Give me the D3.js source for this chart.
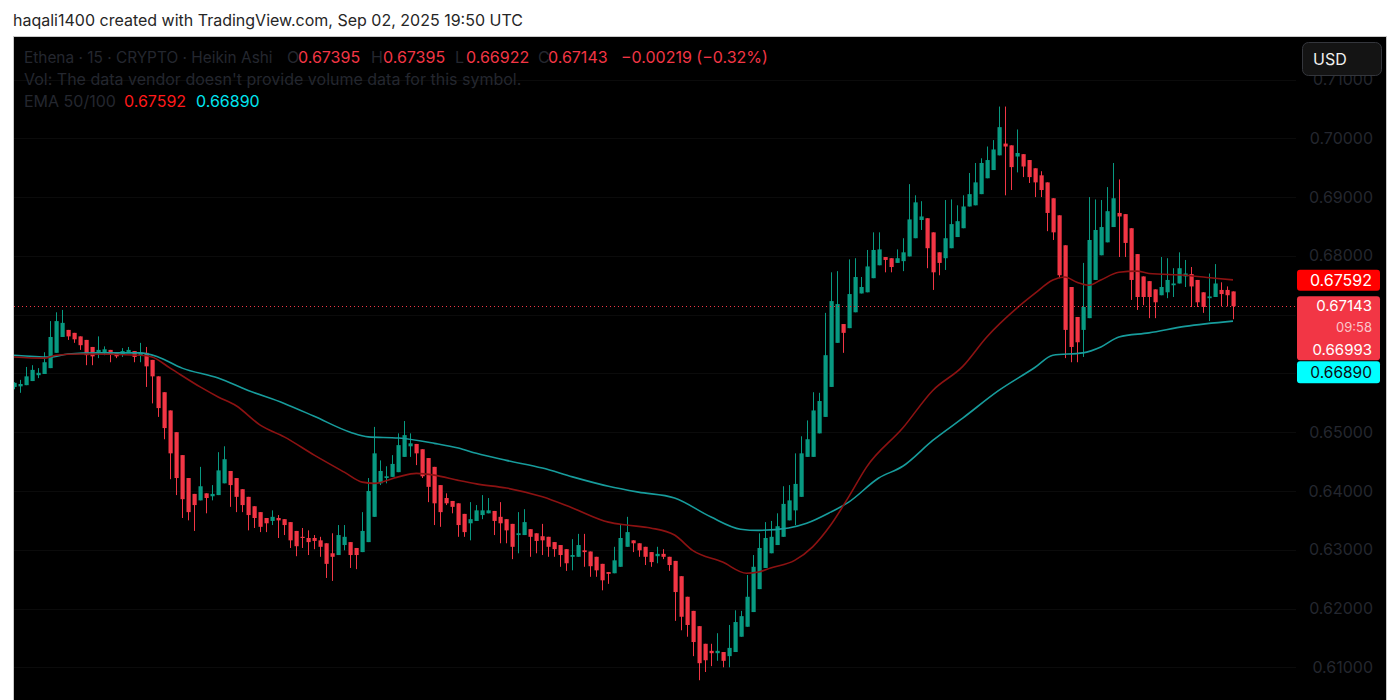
<!DOCTYPE html>
<html><head><meta charset="utf-8">
<script src="https://cdn.jsdelivr.net/npm/d3@7"></script>
<style>
html,body{margin:0;padding:0;background:#fff;}
svg{display:block;}
text{font-family:Inter,"Noto Sans",sans-serif;}
</style></head>
<body><svg id="c" width="1400" height="700"></svg>
<script>
// ---- Data (Heikin Ashi, 15m, Ethena) ----
const haOpen = [
0.6577,0.6578,0.6580,0.6587,0.6597,0.6599,0.6609,0.6635,0.6662,0.6674,
0.6669,0.6663,0.6657,0.6645,0.6635,0.6636,0.6640,0.6636,0.6633,0.6635,
0.6638,0.6631,0.6635,0.6623,0.6595,0.6568,0.6537,0.6500,0.6461,0.6422,
0.6395,0.6384,0.6396,0.6391,0.6393,0.6413,0.6434,0.6422,0.6403,0.6390,
0.6374,0.6364,0.6354,0.6349,0.6354,0.6352,0.6347,0.6332,0.6322,0.6320,
0.6320,0.6316,0.6311,0.6294,0.6291,0.6308,0.6313,0.6303,0.6296,0.6313,
0.6356,0.6413,0.6422,0.6424,0.6432,0.6458,0.6476,0.6480,0.6471,0.6456,
0.6441,0.6410,0.6388,0.6383,0.6379,0.6361,0.6345,0.6349,0.6359,0.6362,
0.6366,0.6356,0.6352,0.6344,0.6325,0.6325,0.6335,0.6328,0.6323,0.6322,
0.6313,0.6308,0.6301,0.6288,0.6288,0.6299,0.6297,0.6288,0.6276,0.6262,
0.6260,0.6271,0.6305,0.6316,0.6311,0.6305,0.6296,0.6289,0.6293,0.6288,
0.6281,0.6255,0.6220,0.6196,0.6170,0.6140,0.6128,0.6124,0.6126,0.6119,
0.6126,0.6152,0.6169,0.6194,0.6233,0.6269,0.6294,0.6308,0.6322,0.6350,
0.6367,0.6390,0.6458,0.6458,0.6498,0.6526,0.6577,0.6652,0.6684,0.6677,
0.6704,0.6736,0.6738,0.6762,0.6784,0.6798,0.6796,0.6788,0.6791,0.6799,
0.6830,0.6861,0.6864,0.6840,0.6806,0.6796,0.6813,0.6832,0.6847,0.6884,
0.6886,0.6905,0.6932,0.6946,0.6971,0.6991,0.6988,0.6969,0.6973,0.6963,
0.6949,0.6937,0.6925,0.6898,0.6869,0.6818,0.6747,0.6696,0.6674,0.6694,
0.6759,0.6801,0.6823,0.6849,0.6873,0.6871,0.6847,0.6803,0.6765,0.6757,
0.6743,0.6733,0.6738,0.6750,0.6753,0.6765,0.6769,0.6759,0.6738,0.6728,
0.6730,0.6742,0.6742,0.67395];
const haHigh = [
0.6585,0.6589,0.6611,0.6614,0.6609,0.6636,0.6689,0.6704,0.6708,0.6674,
0.6669,0.6663,0.6657,0.6645,0.6663,0.6646,0.6640,0.6636,0.6643,0.6645,
0.6638,0.6652,0.6645,0.6623,0.6595,0.6568,0.6537,0.6500,0.6461,0.6422,
0.6395,0.6441,0.6396,0.6410,0.6466,0.6476,0.6434,0.6422,0.6403,0.6390,
0.6374,0.6364,0.6354,0.6367,0.6359,0.6352,0.6347,0.6332,0.6337,0.6333,
0.6325,0.6322,0.6311,0.6328,0.6342,0.6342,0.6313,0.6303,0.6364,0.6422,
0.6509,0.6452,0.6442,0.6461,0.6498,0.6519,0.6498,0.6480,0.6471,0.6456,
0.6441,0.6410,0.6396,0.6383,0.6379,0.6361,0.6381,0.6376,0.6393,0.6388,
0.6366,0.6381,0.6352,0.6344,0.6364,0.6369,0.6335,0.6328,0.6344,0.6322,
0.6313,0.6308,0.6301,0.6318,0.6327,0.6327,0.6297,0.6288,0.6276,0.6262,
0.6305,0.6342,0.6356,0.6316,0.6311,0.6305,0.6296,0.6305,0.6301,0.6288,
0.6281,0.6255,0.6220,0.6196,0.6170,0.6140,0.6140,0.6158,0.6126,0.6172,
0.6197,0.6196,0.6257,0.6291,0.6328,0.6347,0.6349,0.6362,0.6408,0.6410,
0.6464,0.6493,0.6520,0.6568,0.6567,0.6703,0.6772,0.6774,0.6684,0.6794,
0.6796,0.6764,0.6810,0.6840,0.6840,0.6798,0.6796,0.6811,0.6830,0.6922,
0.6903,0.6893,0.6864,0.6840,0.6806,0.6895,0.6896,0.6886,0.6903,0.6941,
0.6958,0.6966,0.6986,0.6997,0.7054,0.7054,0.6988,0.7015,0.6973,0.6963,
0.6949,0.6944,0.6925,0.6898,0.6869,0.6818,0.6747,0.6696,0.6788,0.6900,
0.6896,0.6895,0.6917,0.6958,0.6930,0.6871,0.6847,0.6803,0.6765,0.6757,
0.6743,0.6798,0.6796,0.6779,0.6806,0.6793,0.6781,0.6759,0.6738,0.6770,
0.6786,0.6755,0.6748,0.67395];
const haLow = [
0.6573,0.6567,0.6580,0.6587,0.6592,0.6599,0.6609,0.6635,0.6662,0.6657,
0.6652,0.6640,0.6614,0.6614,0.6626,0.6631,0.6619,0.6626,0.6628,0.6635,
0.6619,0.6619,0.6577,0.6549,0.6526,0.6488,0.6420,0.6393,0.6354,0.6350,
0.6332,0.6384,0.6362,0.6384,0.6393,0.6413,0.6373,0.6364,0.6364,0.6333,
0.6337,0.6330,0.6330,0.6342,0.6320,0.6325,0.6303,0.6289,0.6303,0.6291,
0.6301,0.6288,0.6252,0.6247,0.6291,0.6299,0.6269,0.6267,0.6296,0.6313,
0.6356,0.6410,0.6413,0.6424,0.6432,0.6458,0.6458,0.6444,0.6422,0.6381,
0.6342,0.6339,0.6376,0.6362,0.6322,0.6322,0.6316,0.6349,0.6352,0.6362,
0.6325,0.6311,0.6311,0.6284,0.6294,0.6325,0.6288,0.6294,0.6291,0.6288,
0.6288,0.6271,0.6264,0.6265,0.6288,0.6271,0.6254,0.6254,0.6231,0.6242,
0.6260,0.6271,0.6305,0.6296,0.6288,0.6274,0.6271,0.6277,0.6284,0.6264,
0.6179,0.6163,0.6152,0.6119,0.6078,0.6092,0.6102,0.6111,0.6100,0.6100,
0.6126,0.6152,0.6169,0.6194,0.6233,0.6269,0.6294,0.6308,0.6322,0.6350,
0.6342,0.6390,0.6458,0.6458,0.6498,0.6526,0.6577,0.6652,0.6635,0.6677,
0.6704,0.6736,0.6738,0.6762,0.6784,0.6772,0.6772,0.6788,0.6774,0.6799,
0.6830,0.6844,0.6779,0.6742,0.6767,0.6776,0.6813,0.6832,0.6847,0.6884,
0.6886,0.6905,0.6932,0.6946,0.6971,0.6903,0.6912,0.6942,0.6934,0.6924,
0.6900,0.6900,0.6842,0.6827,0.6762,0.6626,0.6619,0.6619,0.6628,0.6694,
0.6759,0.6801,0.6823,0.6849,0.6798,0.6798,0.6725,0.6708,0.6716,0.6694,
0.6694,0.6733,0.6728,0.6730,0.6753,0.6747,0.6713,0.6713,0.6703,0.6689,
0.6730,0.6714,0.6714,0.66922];
const haClose = [
0.6584,0.6582,0.6595,0.6606,0.6601,0.6619,0.6662,0.6689,0.6686,0.6663,
0.6658,0.6648,0.6631,0.6629,0.6640,0.6641,0.6633,0.6629,0.6638,0.6640,
0.6628,0.6635,0.6612,0.6595,0.6541,0.6507,0.6464,0.6422,0.6386,0.6364,
0.6376,0.6408,0.6388,0.6395,0.6435,0.6454,0.6410,0.6390,0.6376,0.6359,
0.6354,0.6339,0.6345,0.6356,0.6350,0.6342,0.6316,0.6306,0.6320,0.6313,
0.6315,0.6305,0.6276,0.6288,0.6325,0.6322,0.6291,0.6291,0.6332,0.6400,
0.6464,0.6434,0.6425,0.6446,0.6478,0.6495,0.6481,0.6464,0.6425,0.6407,
0.6379,0.6364,0.6379,0.6373,0.6342,0.6330,0.6352,0.6367,0.6367,0.6367,
0.6349,0.6345,0.6333,0.6305,0.6328,0.6347,0.6322,0.6315,0.6316,0.6305,
0.6301,0.6291,0.6277,0.6291,0.6308,0.6296,0.6272,0.6265,0.6248,0.6259,
0.6282,0.6320,0.6330,0.6311,0.6299,0.6288,0.6279,0.6293,0.6288,0.6274,
0.6228,0.6186,0.6172,0.6143,0.6107,0.6112,0.6124,0.6128,0.6111,0.6133,
0.6177,0.6187,0.6220,0.6271,0.6303,0.6320,0.6322,0.6340,0.6378,0.6384,
0.6412,0.6464,0.6488,0.6537,0.6553,0.6631,0.6723,0.6718,0.6669,0.6735,
0.6764,0.6747,0.6782,0.6810,0.6811,0.6793,0.6781,0.6796,0.6806,0.6862,
0.6891,0.6867,0.6813,0.6772,0.6788,0.6830,0.6854,0.6859,0.6884,0.6905,
0.6925,0.6958,0.6963,0.6981,0.7019,0.6986,0.6951,0.6975,0.6952,0.6934,
0.6925,0.6912,0.6873,0.6840,0.6767,0.6674,0.6645,0.6653,0.6713,0.6827,
0.6844,0.6849,0.6876,0.6898,0.6867,0.6822,0.6759,0.6730,0.6730,0.6730,
0.6721,0.6747,0.6759,0.6753,0.6779,0.6770,0.6748,0.6721,0.6713,0.6731,
0.6753,0.6735,0.6733,0.67143];

// EMA readings (candle index, value)
const ema50Index = [0,5,7,11,21,23,26,31,34,37,41,45,50,55,58,60,64,67,70,74,77,82,88,93,99,102,106,110,113,118,122,124,126,130,133,136,139,142,148,153,158,162,167,170,173,175,177,179,181,184,187,189,195,200,203];
const ema50Value = [0.6628,0.6626,0.6631,0.6633,0.6631,0.6628,0.6609,0.6577,0.6560,0.6545,0.6512,0.6492,0.6461,0.6432,0.6415,0.6413,0.6424,0.6430,0.6427,0.6418,0.6412,0.6405,0.6390,0.6371,0.6347,0.6342,0.6337,0.6325,0.6299,0.6279,0.6260,0.6262,0.6269,0.6282,0.6305,0.6342,0.6390,0.6441,0.6507,0.6571,0.6612,0.6662,0.6711,0.6736,0.6759,0.6764,0.6755,0.6750,0.6759,0.6772,0.6774,0.6770,0.6767,0.6762,0.67592];
const ema100Index = [0,6,9,14,21,24,28,34,39,45,50,56,59,64,70,74,77,82,88,93,99,104,110,116,121,124,129,132,136,139,144,148,153,158,164,170,173,178,181,184,189,195,203];
const ema100Value = [0.6631,0.6628,0.6633,0.6635,0.6635,0.6628,0.6609,0.6592,0.6571,0.6549,0.6527,0.6500,0.6492,0.6490,0.6481,0.6473,0.6464,0.6452,0.6439,0.6424,0.6408,0.6398,0.6388,0.6356,0.6335,0.6333,0.6337,0.6345,0.6364,0.6381,0.6422,0.6442,0.6486,0.6524,0.6571,0.6610,0.6631,0.6635,0.6645,0.6662,0.6669,0.6680,0.66890];

const priceTicks = [0.61,0.62,0.63,0.64,0.65,0.66,0.67,0.68,0.69,0.70,0.71];
const titleText = "haqali1400 created with TradingView.com, Sep 02, 2025 19:50 UTC";
const symbolText = "Ethena · 15 · CRYPTO · Heikin Ashi";
const ohlcLabels = ["O","H","L","C"];
const ohlcValues = ["0.67395","0.67395","0.66922","0.67143"];
const changeText = "−0.00219 (−0.32%)";
const volText = "Vol: The data vendor doesn't provide volume data for this symbol.";
const emaLegend = "EMA 50/100";
const emaLast = ["0.67592","0.66890"];
const extraLabel = "0.66993";
const countdown = "09:58";

// ---- Layout ----
const svg = d3.select("#c");
const W = 1400, H = 700;
const panel = {x0: 13, y0: 36, x1: 1386, y1: 700};
const plotRight = 1296;
const N = haClose.length;
const x = d3.scaleLinear().domain([0, N - 1]).range([14, 1233]);
const y = d3.scaleLinear().domain([0.61, 0.70]).range([667.3, 138.3]);

const UP = "#089981", DOWN = "#f23645";
const DIM = "#24272f";

svg.append("rect").attr("width", W).attr("height", H).attr("fill", "#fff");
svg.append("text").attr("x", 13).attr("y", 20).attr("dominant-baseline", "central")
  .attr("font-size", 16).attr("fill", "#262626").text(titleText);

svg.append("rect").attr("x", panel.x0 + 0.5).attr("y", panel.y0 + 0.5)
  .attr("width", panel.x1 - panel.x0).attr("height", panel.y1 - panel.y0 + 2)
  .attr("fill", "#000").attr("stroke", "#c9c9c9").attr("stroke-width", 1);

// grid (very faint)
svg.append("g").selectAll("line").data(priceTicks).join("line")
  .attr("x1", panel.x0 + 1).attr("x2", plotRight)
  .attr("y1", d => Math.round(y(d)) + 0.5).attr("y2", d => Math.round(y(d)) + 0.5)
  .attr("stroke", "#0b0b0b");

svg.append("clipPath").attr("id", "plot").append("rect")
  .attr("x", panel.x0 + 1).attr("y", panel.y0 + 1).attr("width", plotRight - panel.x0).attr("height", H);

const plot = svg.append("g").attr("clip-path", "url(#plot)");

const candles = d3.range(N).map(i => ({i, o: haOpen[i], h: haHigh[i], l: haLow[i], c: haClose[i]}));

const cg = plot.append("g");
cg.selectAll("line").data(candles).join("line")
  .attr("x1", d => Math.round(x(d.i)) + 0.5).attr("x2", d => Math.round(x(d.i)) + 0.5)
  .attr("y1", d => y(d.h)).attr("y2", d => y(d.l))
  .attr("stroke", d => d.c >= d.o ? UP : DOWN).attr("stroke-width", 1);
cg.selectAll("rect").data(candles).join("rect")
  .attr("x", d => Math.round(x(d.i)) - 1.5)
  .attr("width", 4.2)
  .attr("y", d => Math.min(y(d.o), y(d.c)))
  .attr("height", d => Math.max(1, Math.abs(y(d.o) - y(d.c))))
  .attr("fill", d => d.c >= d.o ? UP : DOWN);

const line = d3.line().x(d => x(d[0])).y(d => y(d[1])).curve(d3.curveMonotoneX);
plot.append("path").datum(d3.zip(ema100Index, ema100Value)).attr("d", line)
  .attr("fill", "none").attr("stroke", "#179c9c").attr("stroke-width", 1.6);
plot.append("path").datum(d3.zip(ema50Index, ema50Value)).attr("d", line)
  .attr("fill", "none").attr("stroke", "#8c1212").attr("stroke-width", 1.6);

// last price dotted line
const lastY = Math.round(y(haClose[N - 1])) + 0.5;
svg.append("line").attr("x1", panel.x0 + 1).attr("x2", plotRight)
  .attr("y1", lastY).attr("y2", lastY)
  .attr("stroke", DOWN).attr("stroke-width", 1).attr("stroke-dasharray", "1,3");

// price label geometry (axis labels covered by these are hidden, as in TradingView)
const y50 = y(ema50Value[ema50Value.length - 1]);
const yc = y(haClose[N - 1]);
const top2 = yc - 10;
const labelBands = [[y50 - 10, y50 + 11], [top2, top2 + 87]];
const visibleTicks = priceTicks.filter(t => !labelBands.some(([a, b]) => y(t) > a - 8 && y(t) < b + 8));

// price axis
const axis = d3.axisLeft(y).tickValues(visibleTicks).tickFormat(d3.format(".5f")).tickSize(0).tickPadding(0);
const ag = svg.append("g").attr("transform", `translate(1373,0)`).call(axis);
ag.select(".domain").remove();
ag.selectAll("text").attr("font-size", 16).attr("fill", DIM)
  .attr("font-family", "Inter,'Noto Sans',sans-serif");

// price labels
const lx = 1297, lw = 83;
function box(y0, h, fill) {
  svg.append("rect").attr("x", lx).attr("y", y0).attr("width", lw).attr("height", h)
    .attr("rx", 3).attr("fill", fill);
}
function lbl(t, yy, fill, fs) {
  svg.append("text").attr("x", 1372).attr("y", yy).attr("text-anchor", "end")
    .attr("dominant-baseline", "central").attr("font-size", fs || 16).attr("fill", fill).text(t);
}
box(y50 - 10, 21, "#ff0000"); lbl(emaLast[0], y50 + 0.5, "#fff");
box(top2, 64, DOWN);
lbl(ohlcValues[3], yc - 0.5, "#fff", 15);
lbl(countdown, yc + 21, "rgba(255,255,255,0.72)", 13);
lbl(extraLabel, yc + 43, "#fff", 15);
box(top2 + 65, 22, "#00ffff");
lbl(emaLast[1], top2 + 76, "#0b0e14", 15.5);

// USD button
svg.append("rect").attr("x", 1302.5).attr("y", 42.5).attr("width", 79).attr("height", 33)
  .attr("rx", 6).attr("fill", "#141414").attr("stroke", "#34363c");
svg.append("text").attr("x", 1313).attr("y", 59).attr("dominant-baseline", "central")
  .attr("font-size", 16).attr("fill", "#f0f0f0").text("USD");

// legend
const L = svg.append("g").attr("font-size", 16).attr("dominant-baseline", "central");
L.append("text").attr("x", 24).attr("y", 57).attr("fill", DIM).attr("font-size", 15.4).text(symbolText);
const lblX = [287, 371, 455, 538], valX = [298, 383, 466, 548];
ohlcLabels.forEach((t, k) => {
  L.append("text").attr("x", lblX[k]).attr("y", 57).attr("fill", DIM).text(t);
  L.append("text").attr("x", valX[k]).attr("y", 57).attr("fill", DOWN).text(ohlcValues[k]);
});
L.append("text").attr("x", 621).attr("y", 57).attr("fill", DOWN).text(changeText);
L.append("text").attr("x", 24).attr("y", 79).attr("fill", DIM).text(volText);
L.append("text").attr("x", 24).attr("y", 101).attr("fill", DIM).text(emaLegend);
L.append("text").attr("x", 124).attr("y", 101).attr("fill", "#ff1a1a").text(emaLast[0]);
L.append("text").attr("x", 196).attr("y", 101).attr("fill", "#00e5f0").text(emaLast[1]);
</script>
</body></html>
